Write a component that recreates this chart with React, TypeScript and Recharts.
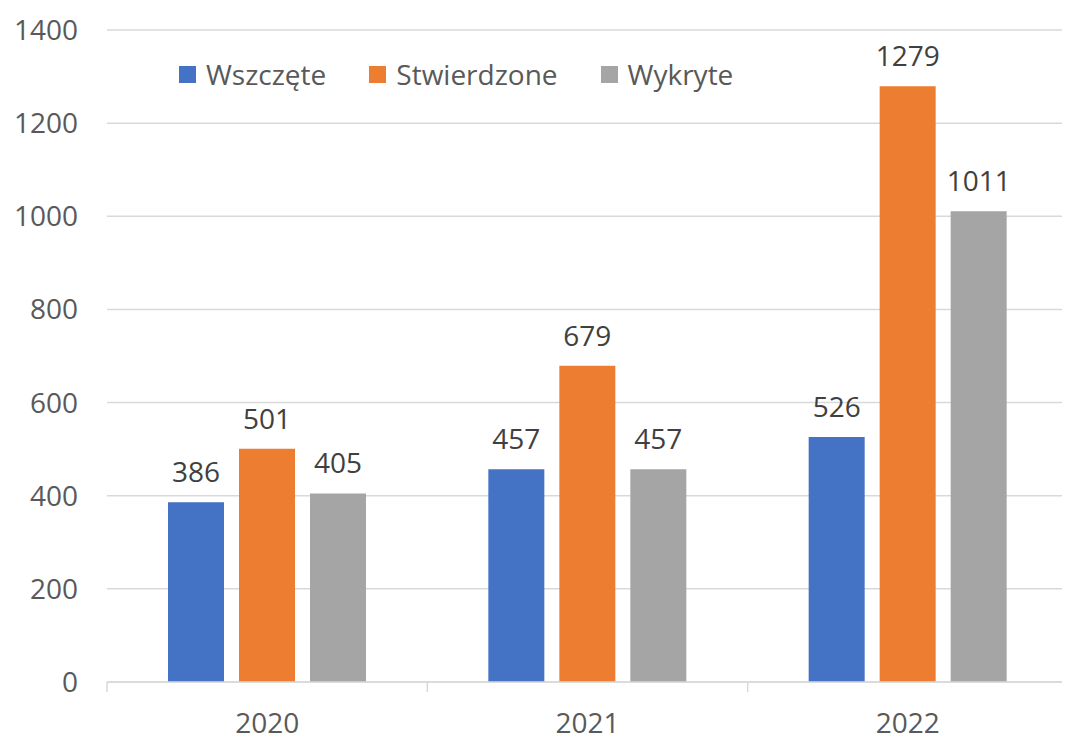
import { BarChart, Bar, XAxis, YAxis, CartesianGrid, Legend, LabelList } from "recharts";

const years = ["2020", "2021", "2022"];
const seriesNames = ["Wszczęte", "Stwierdzone", "Wykryte"];
const wszczete = [386, 457, 526];
const stwierdzone = [501, 679, 1279];
const wykryte = [405, 457, 1011];
const yTicks = [0, 200, 400, 600, 800, 1000, 1200, 1400];

const data = years.map((rok, i) => ({
  rok,
  wszczete: wszczete[i],
  stwierdzone: stwierdzone[i],
  wykryte: wykryte[i],
}));

const FONT = "'Open Sans', 'DejaVu Sans', sans-serif";
const FS = 28;
const W = 1062;
const H = 732;
const M = { top: 22, right: 2, left: 19, bottom: 8 };
const Y_W = 80;
const BAND = (W - M.left - Y_W - M.right) / years.length;

function YearTick(props: any) {
  const { x, y, payload, index } = props;
  const left = x - BAND / 2;
  return (
    <g>
      <line x1={left} y1={y} x2={left} y2={y + 10} stroke="#d9d9d9" strokeWidth={1.5} />
      {index === years.length - 1 && (
        <line x1={left + BAND} y1={y} x2={left + BAND} y2={y + 10} stroke="#d9d9d9" strokeWidth={1.5} />
      )}
      <text x={x} y={y + 51} textAnchor="middle" fill="#595959" fontSize={FS} fontFamily={FONT}>
        {payload.value}
      </text>
    </g>
  );
}

function LegendContent(props: any) {
  const items = [...(props.payload || [])].sort(
    (a: any, b: any) => seriesNames.indexOf(a.value) - seriesNames.indexOf(b.value)
  );
  return (
    <div style={{ display: "flex", alignItems: "center", fontFamily: FONT, fontSize: FS, color: "#595959", whiteSpace: "nowrap" }}>
      {items.map((item: any) => (
        <div key={item.value} style={{ display: "flex", alignItems: "center", marginRight: 43 }}>
          <span style={{ width: 17, height: 17, background: item.color, marginRight: 10, display: "inline-block" }} />
          <span>{item.value}</span>
        </div>
      ))}
    </div>
  );
}

export default function App() {
  return (
    <div style={{ width: W + 20, height: H + 20, borderTop: "1px solid #d0d0d0", borderLeft: "1px solid #d0d0d0", marginLeft: -1, marginTop: -1, background: "#fff" }}>
      <BarChart width={W} height={H} data={data} margin={M} barSize={56} barGap={15}>
        <CartesianGrid vertical={false} stroke="#d9d9d9" strokeWidth={1.5} />
        <XAxis
          dataKey="rok"
          axisLine={{ stroke: "#d9d9d9", strokeWidth: 1.5 }}
          tickLine={false}
          tickSize={0}
          tickMargin={0}
          height={50}
          tick={<YearTick />}
          interval={0}
        />
        <YAxis
          width={Y_W}
          domain={[0, 1400]}
          ticks={yTicks}
          axisLine={false}
          tickLine={false}
          tickSize={0}
          tickMargin={29}
          tick={{ fill: "#595959", fontSize: FS, fontFamily: FONT }}
        />
        <Legend
          layout="horizontal"
          verticalAlign="middle"
          align="center"
          content={<LegendContent />}
          wrapperStyle={{ top: 47, left: 171, width: "auto", height: "auto" }}
        />
        <Bar dataKey="wszczete" name="Wszczęte" fill="#4472C4" isAnimationActive={false}>
          <LabelList dataKey="wszczete" position="top" offset={20} fill="#404040" fontSize={FS} fontFamily={FONT} />
        </Bar>
        <Bar dataKey="stwierdzone" name="Stwierdzone" fill="#ED7D31" isAnimationActive={false}>
          <LabelList dataKey="stwierdzone" position="top" offset={20} fill="#404040" fontSize={FS} fontFamily={FONT} />
        </Bar>
        <Bar dataKey="wykryte" name="Wykryte" fill="#A5A5A5" isAnimationActive={false}>
          <LabelList dataKey="wykryte" position="top" offset={20} fill="#404040" fontSize={FS} fontFamily={FONT} />
        </Bar>
      </BarChart>
    </div>
  );
}
